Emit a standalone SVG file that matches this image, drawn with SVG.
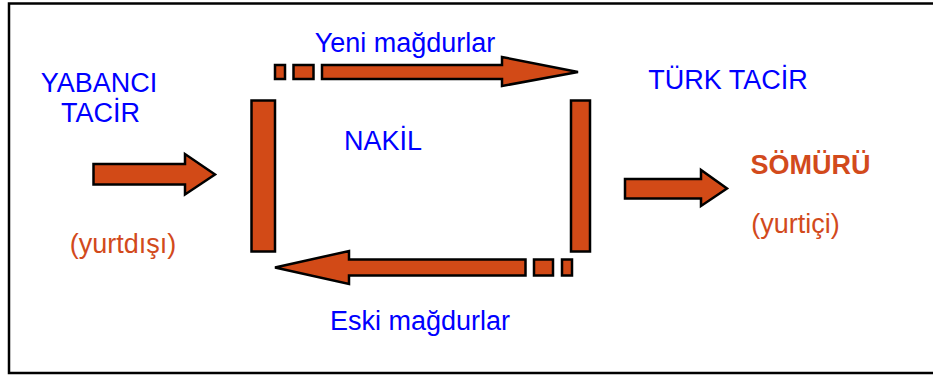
<svg xmlns="http://www.w3.org/2000/svg" width="933" height="375" viewBox="0 0 933 375">
<style>
.t{font-family:"Liberation Sans",Arial,sans-serif;font-size:27px;text-anchor:middle}
.b{fill:#0000FF}
.o{fill:#D24A1C}
.a{fill:#D24A17;stroke:#000;stroke-width:2.5;stroke-linejoin:miter}
</style>
<rect x="9" y="3.5" width="940" height="369.5" fill="#fff" stroke="#000" stroke-width="2.5"/>
<g id="connectors">
<g id="top-arrow">
<rect class="a" x="275" y="65" width="10" height="14"/>
<rect class="a" x="293.5" y="65" width="20" height="14"/>
<polygon class="a" points="322,65 502,65 502,57 578,72 502,86 502,79 322,79"/>
</g>
<g id="bottom-arrow">
<rect class="a" x="562" y="259.5" width="10" height="16"/>
<rect class="a" x="534" y="259.5" width="19" height="16"/>
<polygon class="a" points="525.5,259.5 349,259.5 349,251 275,267.5 349,284 349,275.5 525.5,275.5"/>
</g>
<rect id="left-bar" class="a" x="251.5" y="100.5" width="23.5" height="151"/>
<rect id="right-bar" class="a" x="571" y="100.5" width="19" height="151"/>
<polygon id="in-arrow" class="a" points="93.5,164 185,164 185,154 215,174.5 185,194.5 185,184.5 93.5,184.5"/>
<polygon id="out-arrow" class="a" points="625,179 701,179 701,170 727,188.5 701,206 701,198.5 625,198.5"/>
</g>
<g id="yabanci"><text class="t b" x="99" y="92">YABANCI</text><text class="t b" x="100.5" y="121.5">TACİR</text></g>
<g id="yurtdisi"><text class="t o" x="123" y="253">(yurtdışı)</text></g>
<g id="yeni"><text class="t b" x="405" y="52">Yeni mağdurlar</text></g>
<g id="nakil"><text class="t b" x="383" y="150">NAKİL</text></g>
<g id="eski"><text class="t b" x="420" y="330">Eski mağdurlar</text></g>
<g id="turk"><text class="t b" x="728" y="88.5">TÜRK TACİR</text></g>
<g id="somuru"><text class="t o" x="810.5" y="173.5" font-weight="bold">SÖMÜRÜ</text></g>
<g id="yurtici"><text class="t o" x="795.5" y="233">(yurtiçi)</text></g>
</svg>
